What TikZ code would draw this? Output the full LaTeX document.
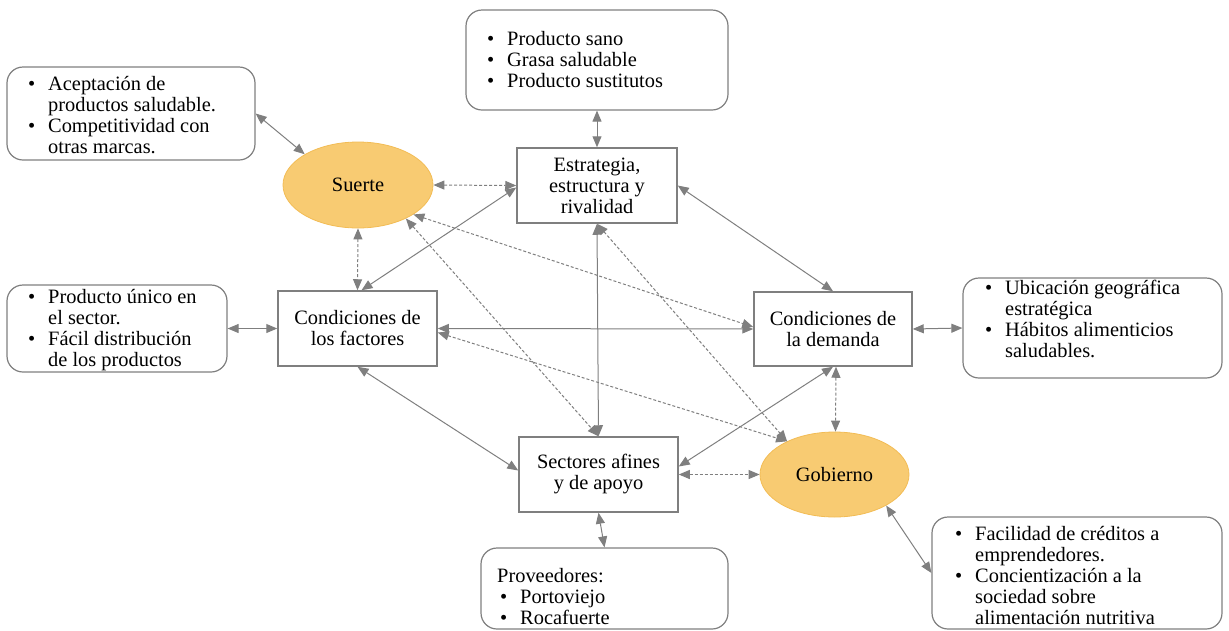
\documentclass[tikz,border=0pt]{standalone}
\usepackage{fontspec}
\setmainfont{Liberation Serif}
\usetikzlibrary{arrows.meta,shapes.geometric}
\definecolor{lc}{HTML}{7F7F7F}
\definecolor{ef}{HTML}{F8CB72}
\definecolor{ee}{HTML}{F2BC55}
\newcommand{\bl}{\makebox[20pt][l]{\textbullet}}
\newcommand{\ind}{\hspace*{20pt}}
\begin{document}
\begin{tikzpicture}[x=1pt,y=-1pt,
 every node/.style={font=\fontsize{20.4}{21}\selectfont},
 rbox/.style={draw=lc, line width=1.2pt, rounded corners=16pt, inner sep=0pt},
 sbox/.style={draw=lc, line width=1.5pt, minimum width=159pt, minimum height=75pt, align=center, inner sep=0pt},
 oval/.style={ellipse, fill=ef, draw=ee, line width=0.8pt, minimum width=150pt, minimum height=86pt, inner sep=0pt},
 txt/.style={anchor=west, align=left, inner sep=0pt},
 con/.style={draw=lc, line width=1pt, {Triangle[length=11pt,width=9pt]}-{Triangle[length=11pt,width=9pt]}},
 dcon/.style={con, dash pattern=on 3pt off 2pt},
]
\useasboundingbox (0,0) rectangle (1229,630);

% rounded info boxes
\node[rbox, minimum width=262pt, minimum height=100pt] (top) at (597,60) {};
\node[txt] (toptx) at (487,60) {\bl Producto sano\\ \bl Grasa saludable\\ \bl Producto sustitutos};

\node[rbox, minimum width=248pt, minimum height=93pt] (lt) at (131,113.5) {};
\node[txt] (lttx) at (28,115) {\bl Aceptación de\\ \ind productos saludable.\\ \bl Competitividad con\\ \ind otras marcas.};

\node[rbox, minimum width=220pt, minimum height=87pt] (lm) at (117,328.5) {};
\node[txt] (lmtx) at (28,330) {\bl Producto único en\\ \ind el sector.\\ \bl Fácil distribución\\ \ind de los productos};

\node[rbox, minimum width=259pt, minimum height=100pt] (rt) at (1092.5,328) {};
\node[txt] (rttx) at (985,319) {\bl Ubicación geográfica\\ \ind estratégica\\ \bl Hábitos alimenticios\\ \ind saludables.};

\node[rbox, minimum width=247pt, minimum height=81pt] (bot) at (604.5,588.5) {};
\node[txt] (bottx) at (497,597) {Proveedores:\\ \hspace*{3pt}\bl Portoviejo\\ \hspace*{3pt}\bl Rocafuerte};

\node[rbox, minimum width=290pt, minimum height=112pt] (rb) at (1077,573) {};
\node[txt] (rbtx) at (955,575) {\bl Facilidad de créditos a\\ \ind emprendedores.\\ \bl Concientización a la\\ \ind sociedad sobre\\ \ind alimentación nutritiva};

% main boxes
\node[sbox, minimum width=160pt] (est) at (597,185.5) {Estrategia,\\ estructura y\\ rivalidad};
\node[sbox] (fac) at (357.5,328.5) {Condiciones de\\ los factores};
\node[sbox, minimum width=158pt, minimum height=74pt] (dem) at (833,329) {Condiciones de\\ la demanda};
\node[sbox] (sec) at (598.5,474.5) {Sectores afines\\ y de apoyo};

% ovals
\node[oval] (suerte) at (358,185) {Suerte};
\node[oval, minimum width=149pt, minimum height=85pt] (gob) at (834.5,474.5) {Gobierno};

% solid connectors
\draw[con] (top.south) -- (est.north);
\draw[con] (lt.east) -- (suerte.150);
\draw[con] ([yshift=-2pt]est.west) -- ([xshift=4pt]fac.north);
\draw[con] (est.east) -- (dem.north);
\draw[con] (fac.east) -- (dem.west);
\draw[con] (est.south) -- (sec.north);
\draw[con] (fac.south) -- ([yshift=4pt]sec.west);
\draw[con] (dem.south) -- ([yshift=8pt]sec.east);
\draw[con] (sec.south) -- (bot.north);
\draw[con] (lm.east) -- (fac.west);
\draw[con] (dem.east) -- (rt.west);
\draw[con] (gob.-31) -- (rb.west);

% dashed connectors
\draw[dcon] (suerte.east) -- (est.west);
\draw[dcon] (suerte.south) -- (fac.north);
\draw[dcon] (suerte.-28) -- ([yshift=2pt]dem.west);
\draw[dcon] (suerte.-35) -- (sec.north);
\draw[dcon] (est.south) -- (gob.145);
\draw[dcon] ([yshift=-4pt]fac.east) -- (gob.145);
\draw[dcon] ([xshift=3pt]dem.south) -- ([xshift=1pt]gob.north);
\draw[dcon] (sec.east) -- (gob.west);
\end{tikzpicture}
\end{document}
